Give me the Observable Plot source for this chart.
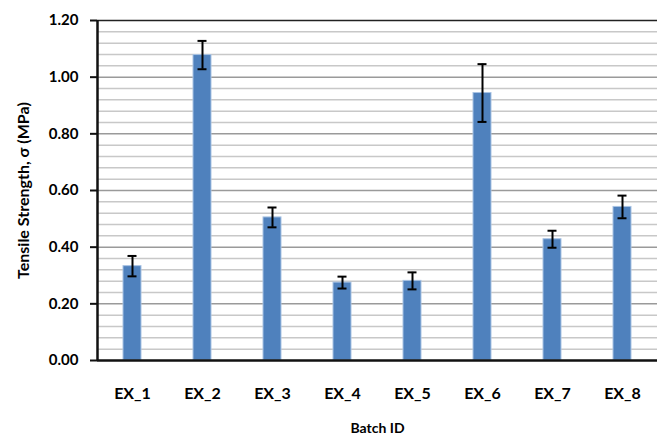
<!DOCTYPE html>
<html>
<head>
<meta charset="utf-8">
<script src="https://cdn.jsdelivr.net/npm/d3@7"></script>
<script src="https://cdn.jsdelivr.net/npm/@observablehq/plot@0.6"></script>
<style>
  html, body { margin: 0; padding: 0; background: #fff; }
  #chart svg { display: block; }
</style>
</head>
<body>
<div id="chart"></div>
<script>
const batches = ["EX_1", "EX_2", "EX_3", "EX_4", "EX_5", "EX_6", "EX_7", "EX_8"];
const strength = [0.333, 1.078, 0.505, 0.275, 0.281, 0.944, 0.428, 0.542];
const errors = [0.036, 0.050, 0.035, 0.021, 0.030, 0.102, 0.030, 0.040];
const majorTicks = [0, 0.2, 0.4, 0.6, 0.8, 1.0, 1.2];
const minorTicks = [0.04, 0.08, 0.12, 0.16, 0.24, 0.28, 0.32, 0.36, 0.44, 0.48, 0.52, 0.56,
                    0.64, 0.68, 0.72, 0.76, 0.84, 0.88, 0.92, 0.96, 1.04, 1.08, 1.12, 1.16];

const data = batches.map((b, i) => ({batch: b, value: strength[i], err: errors[i]}));
const font = "Lato, 'Open Sans', sans-serif";

const chart = Plot.plot({
  width: 657,
  height: 436,
  marginLeft: 97,
  marginRight: 0,
  marginTop: 20,
  marginBottom: 76,
  style: {fontFamily: font, fontWeight: "bold", color: "#000", background: "#fff"},
  x: {domain: batches, paddingInner: 0.74, paddingOuter: 0.37, align: 0.5},
  y: {domain: [0, 1.2]},
  marks: [
    Plot.ruleY(minorTicks, {stroke: "#c8c8c8", strokeWidth: 1.5}),
    Plot.ruleY(majorTicks.slice(1, -1), {stroke: "#9a9a9a", strokeWidth: 1.5}),
    Plot.ruleY([1.2], {stroke: "#222", strokeWidth: 1.5}),
    Plot.barY(data, {x: "batch", y: "value", fill: "#4f81bd", stroke: "#a9c3e3", strokeWidth: 1}),
    Plot.ruleX(data, {x: "batch", y1: d => d.value - d.err, y2: d => d.value + d.err, stroke: "#000", strokeWidth: 2}),
    Plot.tickY(data, {x: "batch", y: d => d.value + d.err, stroke: "#000", strokeWidth: 2, insetLeft: 4.5, insetRight: 4.5}),
    Plot.tickY(data, {x: "batch", y: d => d.value - d.err, stroke: "#000", strokeWidth: 2, insetLeft: 4.5, insetRight: 4.5}),
    Plot.ruleY([0], {stroke: "#111", strokeWidth: 2.5}),
    Plot.ruleX([batches[0]], {x: d => d, dx: -35, stroke: "#111", strokeWidth: 2.5, y1: 0, y2: 1.2}),
    Plot.axisY({ticks: majorTicks, tickFormat: d3.format(".2f"), tickSize: 7, tickPadding: 12,
      fontSize: 15, label: "Tensile Strength, σ (MPa)", labelAnchor: "center", labelArrow: "none", labelOffset: 80, stroke: "#111", strokeWidth: 2}),
    Plot.axisX({tickSize: 0, tickPadding: 27, fontSize: 16, label: "Batch ID", labelAnchor: "center", labelArrow: "none", labelOffset: 72})
  ]
});
chart.querySelectorAll("g[aria-label='y-axis label'] text").forEach(t => t.setAttribute("font-size", "16"));
chart.querySelectorAll("g[aria-label='x-axis label'] text").forEach(t => t.setAttribute("font-size", "14"));
document.getElementById("chart").appendChild(chart);
</script>
</body>
</html>
